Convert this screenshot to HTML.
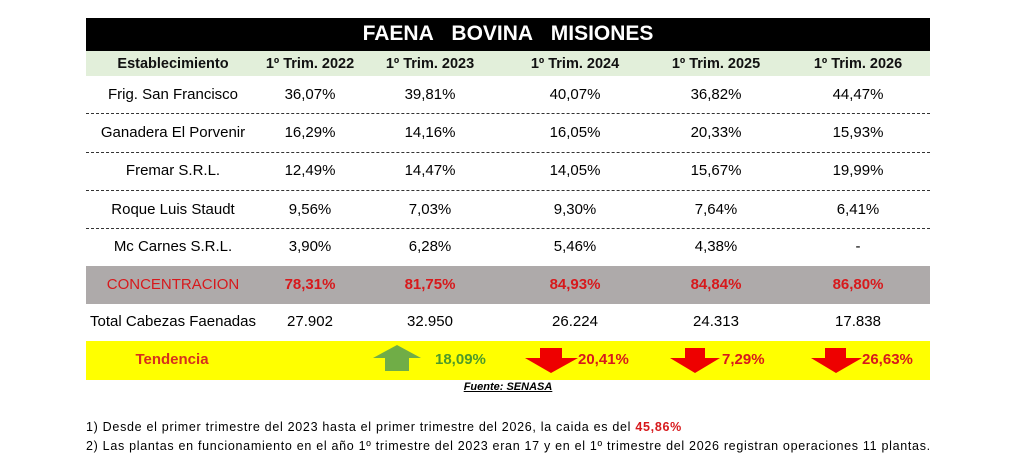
<!DOCTYPE html><html><head><meta charset="utf-8"><style>
body{margin:0;width:1024px;height:468px;background:#fff;position:relative;overflow:hidden;font-family:"Liberation Sans",sans-serif}
div{position:absolute}
.c{transform:translateX(-50%);white-space:nowrap}
.t{font-size:15px;color:#000}
.h{font-size:14.5px;font-weight:bold;color:#111}
.r{color:#d7191c;font-weight:bold;font-size:15px}
.dot{left:86px;width:844px;border-top:1px dashed #333;height:0}
.n{font-size:12.5px;letter-spacing:0.7px;white-space:nowrap}
</style></head><body>
<div style="left:86px;top:18px;width:844px;height:33px;background:#000"></div>
<div class="c" style="left:508px;top:22px;color:#fff;font-size:21px;font-weight:bold;word-spacing:3px">FAENA&nbsp; BOVINA&nbsp; MISIONES</div>
<div style="left:86px;top:51px;width:844px;height:25px;background:#e2efda"></div>
<div class="c h" style="left:173px;top:56px">Establecimiento</div>
<div class="c h" style="left:310px;top:56px">1º Trim. 2022</div>
<div class="c h" style="left:430px;top:56px">1º Trim. 2023</div>
<div class="c h" style="left:575px;top:56px">1º Trim. 2024</div>
<div class="c h" style="left:716px;top:56px">1º Trim. 2025</div>
<div class="c h" style="left:858px;top:56px">1º Trim. 2026</div>

<div class="c t" style="left:173px;top:86px">Frig. San Francisco</div>
<div class="c t" style="left:310px;top:86px">36,07%</div><div class="c t" style="left:430px;top:86px">39,81%</div><div class="c t" style="left:575px;top:86px">40,07%</div><div class="c t" style="left:716px;top:86px">36,82%</div><div class="c t" style="left:858px;top:86px">44,47%</div>
<div class="dot" style="top:113px"></div>
<div class="c t" style="left:173px;top:124px">Ganadera El Porvenir</div>
<div class="c t" style="left:310px;top:124px">16,29%</div><div class="c t" style="left:430px;top:124px">14,16%</div><div class="c t" style="left:575px;top:124px">16,05%</div><div class="c t" style="left:716px;top:124px">20,33%</div><div class="c t" style="left:858px;top:124px">15,93%</div>
<div class="dot" style="top:152px"></div>
<div class="c t" style="left:173px;top:162px">Fremar S.R.L.</div>
<div class="c t" style="left:310px;top:162px">12,49%</div><div class="c t" style="left:430px;top:162px">14,47%</div><div class="c t" style="left:575px;top:162px">14,05%</div><div class="c t" style="left:716px;top:162px">15,67%</div><div class="c t" style="left:858px;top:162px">19,99%</div>
<div class="dot" style="top:190px"></div>
<div class="c t" style="left:173px;top:201px">Roque Luis Staudt</div>
<div class="c t" style="left:310px;top:201px">9,56%</div><div class="c t" style="left:430px;top:201px">7,03%</div><div class="c t" style="left:575px;top:201px">9,30%</div><div class="c t" style="left:716px;top:201px">7,64%</div><div class="c t" style="left:858px;top:201px">6,41%</div>
<div class="dot" style="top:228px"></div>
<div class="c t" style="left:173px;top:238px">Mc Carnes S.R.L.</div>
<div class="c t" style="left:310px;top:238px">3,90%</div><div class="c t" style="left:430px;top:238px">6,28%</div><div class="c t" style="left:575px;top:238px">5,46%</div><div class="c t" style="left:716px;top:238px">4,38%</div><div class="c t" style="left:858px;top:238px">-</div>

<div style="left:86px;top:266px;width:844px;height:38px;background:#aeaaaa"></div>
<div class="c" style="left:173px;top:276px;color:#d7191c;font-size:15px">CONCENTRACION</div>
<div class="c r" style="left:310px;top:276px">78,31%</div><div class="c r" style="left:430px;top:276px">81,75%</div><div class="c r" style="left:575px;top:276px">84,93%</div><div class="c r" style="left:716px;top:276px">84,84%</div><div class="c r" style="left:858px;top:276px">86,80%</div>

<div class="c t" style="left:173px;top:313px">Total Cabezas Faenadas</div>
<div class="c t" style="left:310px;top:313px">27.902</div><div class="c t" style="left:430px;top:313px">32.950</div><div class="c t" style="left:575px;top:313px">26.224</div><div class="c t" style="left:716px;top:313px">24.313</div><div class="c t" style="left:858px;top:313px">17.838</div>

<div style="left:86px;top:341px;width:844px;height:39px;background:#ffff00"></div>
<div class="c r" style="left:172px;top:351px;color:#d7301c">Tendencia</div>
<svg style="position:absolute;left:0;top:0" width="1024" height="468">
<polygon points="373,358 397,345 421,358 409,358 409,371 385,371 385,358" fill="#70ad47"/>
<polygon points="540,348 562,348 562,358 578,358 551,373 525,358 540,358" fill="#ee0000"/>
<polygon points="685,348 705,348 705,358 720,358 695,373 670,358 685,358" fill="#ee0000"/>
<polygon points="825,348 846,348 846,358 862,358 836,373 811,358 825,358" fill="#ee0000"/>
</svg>
<div class="r" style="left:435px;top:351px;color:#4d9a2a">18,09%</div>
<div class="r" style="left:578px;top:351px">20,41%</div>
<div class="r" style="left:722px;top:351px">7,29%</div>
<div class="r" style="left:862px;top:351px">26,63%</div>
<div class="c" style="left:508px;top:381px;font-size:11px;font-weight:bold;font-style:italic;text-decoration:underline">Fuente: SENASA</div>
<div class="n" style="left:86px;top:420px">1) Desde el primer trimestre del 2023 hasta el primer trimestre del 2026, la caida es del <b style="color:#d7191c">45,86%</b></div>
<div class="n" style="left:86px;top:439px">2) Las plantas en funcionamiento en el año 1º trimestre del 2023 eran 17 y en el 1º trimestre del 2026 registran operaciones 11 plantas.</div>
</body></html>
